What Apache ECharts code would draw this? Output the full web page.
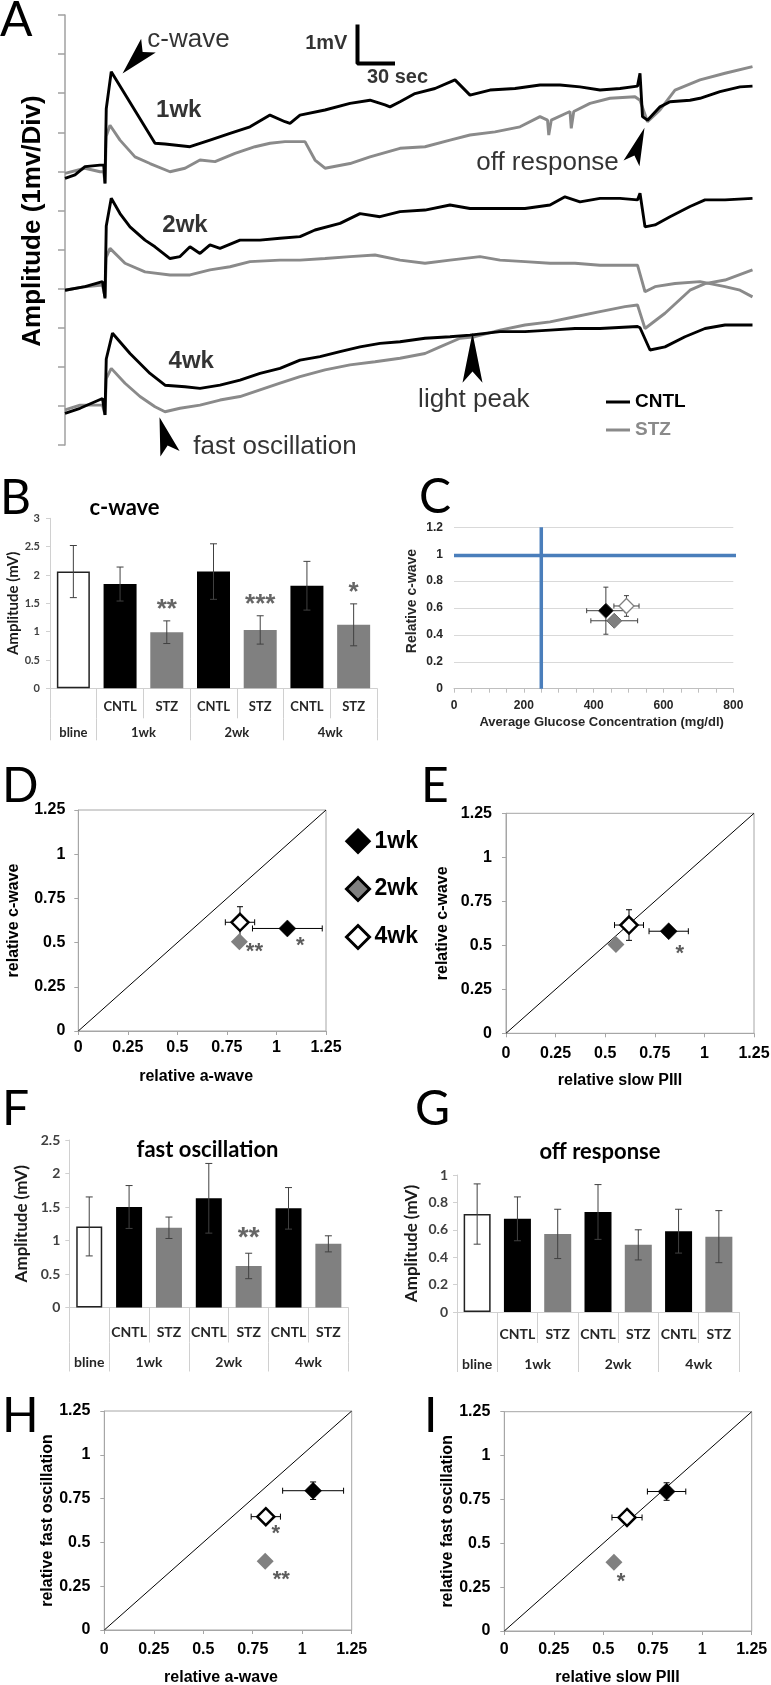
<!DOCTYPE html>
<html><head><meta charset="utf-8">
<script src="https://cdn.jsdelivr.net/npm/echarts@6/dist/echarts.min.js"></script>
<style>html,body{margin:0;padding:0;background:#fff}#c{width:771px;height:1685px}</style>
</head><body><div id="c"></div>
<script>
// ---------------- DATA ----------------
// Panel A: DC-ERG traces, [time (s), amplitude (mV, incl. display offset)]
const cntl1wk = [[0,6.82],[8,6.91],[16,7.12],[28,7.16],[31,7.16],[32,6.69],[33,8.6],[37,9.55],[72,7.72],[80,7.70],[100,7.63],[116,7.80],[132,7.97],[148,8.14],[164,8.44],[176,8.27],[180,8.23],[188,8.44],[208,8.57],[228,8.74],[244,8.82],[256,8.70],[260,8.65],[268,8.78],[280,8.99],[296,9.12],[312,9.34],[324,8.95],[340,9.08],[360,9.12],[380,9.21],[396,9.21],[412,9.16],[428,9.08],[444,9.12],[458,9.18],[460,9.51],[462,8.40],[466,8.31],[476,8.65],[484,8.78],[500,8.82],[508,8.87],[524,9.04],[540,9.16],[550,9.18]];
const stz1wk = [[0,6.95],[16,7.08],[28,6.99],[31,6.99],[32,6.69],[33,7.9],[36,8.18],[44,7.80],[56,7.37],[68,7.20],[84,6.99],[96,7.08],[108,7.29],[120,7.25],[136,7.46],[152,7.63],[164,7.72],[176,7.76],[192,7.76],[200,7.29],[208,7.08],[228,7.20],[244,7.37],[268,7.59],[288,7.63],[308,7.80],[324,7.93],[344,8.01],[364,8.14],[380,8.40],[386,8.31],[387,7.93],[389,8.31],[404,8.53],[405,8.10],[407,8.53],[420,8.74],[436,8.87],[456,8.91],[460,8.82],[466,8.27],[476,8.57],[488,9.08],[508,9.34],[528,9.51],[550,9.68]];
const cntl2wk = [[0,3.96],[16,4.05],[30,4.18],[32,3.75],[33,5.6],[37,6.31],[44,5.92],[52,5.58],[64,5.24],[72,5.07],[84,4.77],[92,4.82],[100,5.07],[108,4.90],[116,5.12],[124,5.03],[140,5.24],[156,5.24],[172,5.29],[188,5.33],[200,5.50],[220,5.67],[236,5.92],[252,5.84],[268,5.97],[288,6.01],[308,6.14],[324,6.05],[348,6.05],[368,6.05],[388,6.14],[400,6.35],[412,6.22],[428,6.31],[444,6.31],[458,6.27],[460,6.44],[464,5.58],[472,5.63],[484,5.84],[500,6.10],[512,6.27],[528,6.27],[550,6.31]];
const stz2wk = [[0,3.96],[16,4.05],[30,4.09],[32,3.79],[33,4.8],[36,5.03],[48,4.65],[64,4.43],[84,4.35],[100,4.35],[116,4.48],[132,4.56],[148,4.69],[172,4.73],[188,4.73],[208,4.77],[228,4.82],[248,4.86],[268,4.73],[288,4.65],[308,4.73],[332,4.82],[348,4.73],[368,4.69],[388,4.65],[408,4.65],[428,4.60],[458,4.60],[464,3.92],[472,4.05],[488,4.13],[508,4.18],[528,4.05],[540,3.96],[550,3.79]];
const cntl4wk = [[0,0.81],[12,0.94],[30,1.19],[32,0.77],[33,2.2],[38,2.86],[52,2.34],[68,1.83],[80,1.53],[96,1.49],[108,1.45],[124,1.53],[140,1.66],[156,1.83],[172,1.96],[188,2.17],[204,2.26],[220,2.39],[236,2.51],[252,2.60],[268,2.64],[288,2.73],[308,2.77],[324,2.81],[348,2.90],[368,2.90],[388,2.94],[408,2.98],[428,2.98],[458,3.03],[460,3.00],[468,2.43],[480,2.51],[496,2.77],[512,2.98],[528,3.07],[550,3.07]];
const stz4wk = [[0,0.90],[12,1.02],[30,1.02],[32,0.77],[33,1.7],[37,1.96],[48,1.58],[60,1.24],[72,0.98],[80,0.85],[92,0.94],[108,1.02],[124,1.15],[140,1.24],[156,1.41],[172,1.58],[188,1.75],[208,1.92],[228,2.05],[248,2.13],[268,2.22],[288,2.34],[300,2.51],[316,2.73],[328,2.77],[348,2.94],[368,3.07],[388,3.15],[408,3.28],[428,3.41],[448,3.54],[458,3.58],[464,2.98],[480,3.37],[500,3.96],[512,4.13],[528,4.22],[550,4.48]];
const scaleBar = [[234,10.76],[234,9.76],[264,9.76]];          // 1 mV / 30 s
const annotText = ['c-wave','off response','light peak','fast oscillation'];
const annotPos  = [[98.8,10.36],[386,7.21],[327,1.15],[168,-0.05]];
const weekLabelText = ['1wk','2wk','4wk'];
const weekLabelPos  = [[91,8.57],[96,5.63],[101,2.13]];
const scaleText = ['1mV','30 sec'];
const scaleTextPos = [[209,10.28],[266,9.41]];
const arrowPos = [[56.4,9.86],[458.4,7.66],[326,2.23],[79.8,0.245]];

// Bar panels
const groups = ['bline','1wk','2wk','4wk'];
const conds = ['CNTL','STZ'];
const barCats = ['bline','1wk CNTL','1wk STZ','2wk CNTL','2wk STZ','4wk CNTL','4wk STZ'];
const cwaveMean = [2.06, 1.84, 0.99, 2.06, 1.03, 1.81, 1.12];
const cwaveSE   = [0.46, 0.30, 0.20, 0.49, 0.25, 0.43, 0.37];
const cwaveStars = ['', '', '**', '', '***', '', '*'];
const fastMean = [1.21, 1.50, 1.19, 1.63, 0.62, 1.48, 0.95];
const fastSE   = [0.44, 0.32, 0.16, 0.52, 0.19, 0.31, 0.12];
const fastStars = ['', '', '', '', '**', '', ''];
const offMean = [0.715, 0.68, 0.57, 0.73, 0.49, 0.59, 0.55];
const offSE   = [0.22, 0.16, 0.18, 0.20, 0.11, 0.16, 0.19];

// Scatter panels (1wk, 2wk, 4wk)
const weekNames = ['1wk','2wk','4wk'];
const glucose = [435, 459, 494];
const glucoseErr = [55, 67, 36];
const relCwave = [0.58, 0.505, 0.615];
const relCwaveErrC = [0.175, 0, 0.077];
const relCwaveErrD = [0, 0, 0.088];
const relCwaveErrE = [0, 0, 0.087];
const relAwave = [1.055, 0.813, 0.816];
const relAwaveErrD = [0.176, 0, 0.074];
const relAwaveErrH = [0.154, 0, 0.074];
const relSlowPIII = [0.82, 0.554, 0.62];
const relSlowErrE = [0.099, 0, 0.073];
const relSlowErrI = [0.097, 0, 0.076];
const relFastOsc = [0.795, 0.392, 0.647];
const relFastErr = [0.05, 0, 0];
const starsD = ['*', '**', ''];
const starsE = ['*', '', ''];
const starsH = ['', '**', '*'];
const starsI = ['', '*', ''];
const glucoseNormal = 250;
const cwaveRef = 0.99;
const cwaveRefEnd = 824;
const unityLine = [0, 1.25];

// ---------------- STYLE / BUILD ----------------
const ARIAL = '"Liberation Sans", Arial, Helvetica, sans-serif';
const CAL = 'Lato, Carlito, "Open Sans", sans-serif';
const ARROW = 'path://M0,0 L10,40 L0,31 L-10,40 Z';
const grid = [], xAxis = [], yAxis = [], series = [];
const noBounds = {containLabel:false, outerBoundsMode:'none'};

// ---- Panel A ----
grid.push(Object.assign({left:65, top:15, width:687.5, height:430}, noBounds));
xAxis.push({gridIndex:0, type:'value', min:0, max:550, show:false});
yAxis.push({gridIndex:0, type:'value', min:0, max:11, interval:1,
  axisLine:{show:true, lineStyle:{color:'#a0a0a0', width:1.5}},
  axisTick:{show:true, length:7, lineStyle:{color:'#a0a0a0', width:1.5}},
  axisLabel:{show:false}, splitLine:{show:false},
  name:'Amplitude (1mv/Div)', nameLocation:'middle', nameGap:19,
  nameTextStyle:{fontFamily:ARIAL, fontWeight:'bold', fontSize:26, color:'#000', padding:[0,0,0,18]}});
[[stz1wk,'STZ'],[stz2wk,'STZ'],[stz4wk,'STZ'],[cntl1wk,'CNTL'],[cntl2wk,'CNTL'],[cntl4wk,'CNTL']].forEach(([d,n])=>{
  const col = n==='CNTL' ? '#000' : '#8a8a8a';
  series.push({type:'line', name:n, xAxisIndex:0, yAxisIndex:0, data:d, symbol:'none', showSymbol:false,
    lineStyle:{width:2.9, color:col}, itemStyle:{color:col}, z:n==='CNTL'?3:2, silent:true});
});
series.push({type:'line', xAxisIndex:0, yAxisIndex:0, data:scaleBar, symbol:'none', lineStyle:{width:4, color:'#000'}, silent:true, z:4});
const txt = (s, f, w) => ({show:true, formatter:s, position:'inside', fontFamily:ARIAL, fontSize:f, fontWeight:w, color:'#000'});
series.push({type:'scatter', xAxisIndex:0, yAxisIndex:0, symbolSize:0, clip:false, silent:true, z:6,
  data: annotText.map((s,i)=>({value:annotPos[i], label:txt(s,26,'normal')}))
    .concat(weekLabelText.map((s,i)=>({value:weekLabelPos[i], label:txt(s,24,'bold')})))
    .concat(scaleText.map((s,i)=>({value:scaleTextPos[i], label:txt(s,20,'bold')})))});
const arrowRot = [137, -20, 0, 16];
const arrowSize = [[20,38],[17,38],[20,50],[20,38]];
series.push({type:'scatter', xAxisIndex:0, yAxisIndex:0, clip:false, silent:true, z:6, itemStyle:{color:'#000', opacity:1},
  data: arrowPos.map((p,i)=>({value:p, symbol:ARROW, symbolSize:arrowSize[i], symbolRotate:arrowRot[i]}))});

// ---- Bar panels ----
const row1Labels = [], row2Labels = [];
for (let k=0;k<15;k++){ row1Labels.push(''); row2Labels.push(''); }
for (let b=1;b<7;b++) row1Labels[2*b+1] = conds[(b-1)%2];
row2Labels[1] = groups[0];
for (let g=1; g<groups.length; g++) row2Labels[4*g] = groups[g];
const row1Edges = [0,2,4,6,8,10,12,14];
const row2Edges = [0,2,6,10,14];
const barFill = ['#ffffff','#000000','#808080','#000000','#808080','#000000','#808080'];

function barErr(params, api){
  const i = api.value(0), m = api.value(1), s = api.value(2);
  const t = api.coord([i, m+s]), b = api.coord([i, m-s]);
  const st = {stroke:'#404040', lineWidth:1}, c = 3.5, x = t[0];
  return {type:'group', children:[
    {type:'line', shape:{x1:x,y1:t[1],x2:x,y2:b[1]}, style:st},
    {type:'line', shape:{x1:x-c,y1:t[1],x2:x+c,y2:t[1]}, style:st},
    {type:'line', shape:{x1:x-c,y1:b[1],x2:x+c,y2:b[1]}, style:st}]};
}
function addBarPanel(p){
  const gi = grid.length;
  grid.push(Object.assign({}, p.box, noBounds));
  const yi = yAxis.length;
  yAxis.push({gridIndex:gi, type:'value', min:0, max:p.ymax, interval:p.yint,
    axisLine:{show:true, lineStyle:{color:'#d0d0d0'}},
    axisTick:{show:true, length:4, lineStyle:{color:'#d0d0d0'}}, splitLine:{show:false},
    axisLabel:{margin:p.yLabM, fontFamily:CAL, fontWeight:'bold', fontSize:p.yFont, color:'#404040'},
    name:'Amplitude (mV)', nameLocation:'middle', nameGap:p.yNameGap,
    nameTextStyle:{fontFamily:CAL, fontWeight:'bold', fontSize:p.yNameFont, color:'#1a1a1a'}});
  const xb = xAxis.length;
  xAxis.push({gridIndex:gi, type:'category', data:barCats, axisLine:{show:true, lineStyle:{color:'#d0d0d0'}},
    axisTick:{show:false}, axisLabel:{show:false}});
  xAxis.push({gridIndex:gi, type:'category', boundaryGap:false, data:row1Labels, position:'bottom', offset:0,
    axisLine:{show:false, onZero:false},
    axisTick:{show:true, length:p.rowH[0], interval:(i)=>row1Edges.includes(i), lineStyle:{color:'#d0d0d0'}},
    axisLabel:{interval:0, margin:p.rowM[0], fontFamily:CAL, fontWeight:'bold', fontSize:p.rowFont, color:'#262626'}});
  xAxis.push({gridIndex:gi, type:'category', boundaryGap:false, data:row2Labels, position:'bottom', offset:p.rowH[0],
    axisLine:{show:false, onZero:false},
    axisTick:{show:true, length:p.rowH[1], interval:(i)=>row2Edges.includes(i), lineStyle:{color:'#d0d0d0'}},
    axisLabel:{interval:0, margin:p.rowM[1], fontFamily:CAL, fontWeight:'bold', fontSize:p.rowFont, color:'#262626'}});
  series.push({type:'bar', xAxisIndex:xb, yAxisIndex:yi, barWidth:p.barW, z:2, silent:true,
    data:p.mean.map((m,i)=>({value:m, itemStyle:{color:barFill[i], borderColor:i===0?'#222':barFill[i], borderWidth:i===0?1.5:0}}))});
  series.push({type:'custom', xAxisIndex:xb, yAxisIndex:yi, z:5, silent:true, encode:{x:0,y:1},
    data:p.mean.map((m,i)=>[i,m,p.se[i]]), renderItem:barErr});
  const sd = [];
  p.stars.forEach((s,i)=>{ if(s) sd.push({value:[i, p.mean[i]+p.se[i]],
    label:{show:true, formatter:s, position:'inside', offset:[0,-p.starGap+6], fontFamily:ARIAL, fontWeight:'bold', fontSize:p.starFont, color:'#404040'}}); });
  series.push({type:'scatter', xAxisIndex:xb, yAxisIndex:yi, symbolSize:0, z:6, silent:true, clip:false, data:sd});
}
addBarPanel({box:{left:50, top:518.3, width:327, height:170}, ymax:3, yint:0.5, yLabM:10, yFont:11,
  yNameGap:25, yNameFont:15, rowH:[30,22], rowM:[12,8], rowFont:13, barW:33,
  mean:cwaveMean, se:cwaveSE, stars:cwaveStars, starGap:17, starFont:26});

// ---- Panel C ----
function ptErr(color, cap){
  return function(params, api){
    const x = api.value(0), y = api.value(1), ex = api.value(2), ey = api.value(3);
    const st = {stroke:color, lineWidth:1}, ch = [];
    const L = (x1,y1,x2,y2)=>ch.push({type:'line', shape:{x1,y1,x2,y2}, style:st});
    if (ex > 0){ const a = api.coord([x-ex,y]), b = api.coord([x+ex,y]);
      L(a[0],a[1],b[0],b[1]); L(a[0],a[1]-cap,a[0],a[1]+cap); L(b[0],b[1]-cap,b[0],b[1]+cap); }
    if (ey > 0){ const a = api.coord([x,y-ey]), b = api.coord([x,y+ey]);
      L(a[0],a[1],b[0],b[1]); L(a[0]-cap,a[1],a[0]+cap,a[1]); L(b[0]-cap,b[1],b[0]+cap,b[1]); }
    return {type:'group', children:ch};
  };
}
{
  const gi = grid.length;
  grid.push(Object.assign({left:454, top:527.3, width:279.3, height:161.4}, noBounds));
  const xi = xAxis.length, yi = yAxis.length;
  xAxis.push({gridIndex:gi, type:'value', min:0, max:800, interval:50,
    axisLine:{show:true, onZero:false, lineStyle:{color:'#bfbfbf'}},
    axisTick:{show:true, length:4, lineStyle:{color:'#bfbfbf'}}, splitLine:{show:false},
    axisLabel:{margin:11, fontFamily:ARIAL, fontWeight:'bold', fontSize:12, color:'#262626', formatter:(v)=>v%200===0?String(v):''},
    name:'Average Glucose Concentration (mg/dl)', nameLocation:'middle', nameGap:27,
    nameTextStyle:{fontFamily:ARIAL, fontWeight:'bold', fontSize:13, color:'#262626', padding:[0,0,0,16]}});
  yAxis.push({gridIndex:gi, type:'value', min:0, max:1.2, interval:0.2,
    axisLine:{show:false}, axisTick:{show:false},
    splitLine:{show:true, lineStyle:{color:'#d9d9d9', width:1}},
    axisLabel:{margin:11, fontFamily:ARIAL, fontWeight:'bold', fontSize:12, color:'#262626', formatter:(v)=>String(Math.round(v*10)/10)},
    name:'Relative c-wave', nameLocation:'middle', nameGap:35,
    nameTextStyle:{fontFamily:ARIAL, fontWeight:'bold', fontSize:14, color:'#262626', padding:[0,0,0,14]}});
  series.push({type:'line', xAxisIndex:xi, yAxisIndex:yi, symbol:'none', clip:false, silent:true, z:2,
    data:[[glucoseNormal,0],[glucoseNormal,1.2]], lineStyle:{color:'#4a7ebb', width:3.5}});
  series.push({type:'line', xAxisIndex:xi, yAxisIndex:yi, symbol:'none', clip:false, silent:true, z:2,
    data:[[0,cwaveRef],[cwaveRefEnd,cwaveRef]], lineStyle:{color:'#4a7ebb', width:3.5}});
  series.push({type:'custom', xAxisIndex:xi, yAxisIndex:yi, z:3, silent:true, encode:{x:0,y:1},
    data:glucose.map((g,i)=>[g, relCwave[i], glucoseErr[i], relCwaveErrC[i]]), renderItem:ptErr('#404040',2.5)});
  const cSty = [{color:'#000', borderColor:'#444', borderWidth:1, opacity:1},{color:'#7f7f7f', borderColor:'#6a6a6a', borderWidth:1, opacity:1},{color:'#fff', borderColor:'#7f7f7f', borderWidth:1.3, opacity:1}];
  weekNames.forEach((w,i)=>series.push({type:'scatter', name:w, xAxisIndex:xi, yAxisIndex:yi, symbol:'diamond', symbolSize:15,
    data:[[glucose[i], relCwave[i]]], itemStyle:cSty[i], z:4, silent:true}));
}

// ---- Scatter panels D/E/H/I ----
const wkSty = [{color:'#000', borderColor:'#000', borderWidth:0.5, opacity:1},{color:'#808080', borderWidth:0, opacity:1},{color:'#fff', borderColor:'#000', borderWidth:2.5, opacity:1}];
function addScatterPanel(p){
  const gi = grid.length;
  grid.push(Object.assign({show:true, borderColor:'#a6a6a6', borderWidth:1, backgroundColor:'transparent'}, p.box, noBounds));
  const xi = xAxis.length, yi = yAxis.length;
  const common = {gridIndex:gi, type:'value', min:0, max:1.25, interval:0.25,
    axisLine:{show:true, onZero:false, lineStyle:{color:'#a6a6a6'}},
    axisTick:{show:true, length:4, lineStyle:{color:'#a6a6a6'}}, splitLine:{show:false}, nameLocation:'middle'};
  xAxis.push(Object.assign({}, common, {name:p.xName, nameGap:p.xNameGap,
    nameTextStyle:{fontFamily:ARIAL, fontWeight:'bold', fontSize:16, color:'#000', padding:[0,p.xPad,0,0]},
    axisLabel:{margin:p.xLabM, fontFamily:ARIAL, fontWeight:'bold', fontSize:16, color:'#000'}}));
  yAxis.push(Object.assign({}, common, {name:p.yName, nameGap:p.yNameGap,
    nameTextStyle:{fontFamily:ARIAL, fontWeight:'bold', fontSize:16, color:'#000'},
    axisLabel:{margin:p.yLabM, fontFamily:ARIAL, fontWeight:'bold', fontSize:16, color:'#000'}}));
  series.push({type:'line', xAxisIndex:xi, yAxisIndex:yi, data:unityLine.map(v=>[v,v]), symbol:'none',
    lineStyle:{color:'#000', width:1}, z:1, silent:true});
  series.push({type:'custom', xAxisIndex:xi, yAxisIndex:yi, z:3, silent:true, encode:{x:0,y:1},
    data:p.x.map((x,i)=>[x, p.y[i], p.xe[i], p.ye[i]]), renderItem:ptErr('#000',3)});
  weekNames.forEach((w,i)=>series.push({type:'scatter', name:w, xAxisIndex:xi, yAxisIndex:yi, symbol:'diamond', symbolSize:17,
    data:[[p.x[i], p.y[i]]], itemStyle:wkSty[i], z:4, silent:true}));
  const sd = [];
  p.stars.forEach((s,i)=>{ if(s) sd.push({value:[p.x[i], p.y[i]],
    label:{show:true, formatter:s, position:'inside', offset:[p.starOff[i][0], p.starOff[i][1]+5], fontFamily:ARIAL, fontWeight:'bold', fontSize:22, color:'#333'}}); });
  series.push({type:'scatter', xAxisIndex:xi, yAxisIndex:yi, symbolSize:0, z:6, silent:true, clip:false, data:sd});
}
addScatterPanel({box:{left:78.3, top:810, width:247.7, height:221}, x:relAwave, xe:relAwaveErrD, y:relCwave, ye:relCwaveErrD,
  xName:'relative a-wave', yName:'relative c-wave', xNameGap:38, yNameGap:57, xLabM:9, yLabM:13, xPad:12,
  stars:starsD, starOff:[[13,12],[15,5],[0,0]]});
addScatterPanel({box:{left:506, top:813.3, width:248, height:220}, x:relSlowPIII, xe:relSlowErrE, y:relCwave, ye:relCwaveErrE,
  xName:'relative slow PIII', yName:'relative c-wave', xNameGap:39, yNameGap:55, xLabM:12, yLabM:14, xPad:20,
  stars:starsE, starOff:[[11,18],[0,0],[0,0]]});

// ---- Bar panels F, G ----
addBarPanel({box:{left:69.3, top:1140, width:279, height:167.5}, ymax:2.5, yint:0.5, yLabM:9, yFont:14,
  yNameGap:39, yNameFont:17, rowH:[35,29], rowM:[17.5,12.5], rowFont:14, barW:26,
  mean:fastMean, se:fastSE, stars:fastStars, starGap:21, starFont:28});
addBarPanel({box:{left:457, top:1175, width:282, height:137}, ymax:1, yint:0.2, yLabM:9, yFont:14,
  yNameGap:37, yNameFont:17, rowH:[31,29], rowM:[15,14], rowFont:14, barW:27,
  mean:offMean, se:offSE, stars:['','','','','','',''], starGap:20, starFont:28});

// ---- Scatter panels H, I ----
addScatterPanel({box:{left:104.3, top:1411, width:247.4, height:219}, x:relAwave, xe:relAwaveErrH, y:relFastOsc, ye:relFastErr,
  xName:'relative a-wave', yName:'relative fast oscillation', xNameGap:40, yNameGap:46, xLabM:12, yLabM:14, xPad:14,
  stars:starsH, starOff:[[0,0],[16,14],[10,12]]});
addScatterPanel({box:{left:504.3, top:1411.7, width:247.4, height:219.3}, x:relSlowPIII, xe:relSlowErrI, y:relFastOsc, ye:relFastErr,
  xName:'relative slow PIII', yName:'relative fast oscillation', xNameGap:39, yNameGap:46, xLabM:11, yLabM:14, xPad:21,
  stars:starsI, starOff:[[0,0],[7,15],[0,0]]});

// ---- Legends, letters, titles ----
const legend = [
  {left:606, top:392.5, orient:'vertical', itemWidth:24, itemHeight:3, itemGap:9, icon:'rect', selectedMode:false, padding:0,
   textStyle:{fontFamily:ARIAL, fontWeight:'bold', fontSize:19},
   data:[{name:'CNTL', itemStyle:{color:'#000', opacity:1}, textStyle:{color:'#000'}},{name:'STZ', itemStyle:{color:'#8a8a8a', opacity:1}, textStyle:{color:'#8a8a8a'}}]},
  {left:345, top:828.5, orient:'vertical', itemWidth:23, itemHeight:23, itemGap:22, icon:'diamond', selectedMode:false, padding:0,
   textStyle:{fontFamily:ARIAL, fontWeight:'bold', fontSize:23, color:'#000'},
   data:[{name:'1wk', itemStyle:{color:'#000', borderColor:'#000', borderWidth:2.5, opacity:1}},
         {name:'2wk', itemStyle:{color:'#808080', borderColor:'#000', borderWidth:3, opacity:1}},
         {name:'4wk', itemStyle:{color:'#fff', borderColor:'#000', borderWidth:3, opacity:1}}]}
];
const letters = ['A','B','C','D','E','F','G','H','I'];
const letterPos = [[0,21],[0,498.5],[419,497.5],[2,786.5],[421,786.5],[2,1110],[415,1110],[2,1416.5],[424,1416.5]];
const titles = ['c-wave','fast oscillation','off response'];
const titlePos = [[124.5,508],[207.5,1150],[600,1152]];
const graphic = letters.map((t,i)=>({type:'text', x:letterPos[i][0], y:letterPos[i][1], silent:true,
    style:{text:t, fontFamily:'Lato, "Liberation Sans", sans-serif', fontSize:48, fill:'#000', align:'left', verticalAlign:'middle'}}))
  .concat(titles.map((t,i)=>({type:'text', x:titlePos[i][0], y:titlePos[i][1], silent:true,
    style:{text:t, fontFamily:CAL, fontWeight:'bold', fontSize:22, fill:'#000', align:'center', verticalAlign:'middle'}})));

const chart = echarts.init(document.getElementById('c'), null, {renderer:'canvas', width:771, height:1685});
chart.setOption({animation:false, backgroundColor:'#fff', textStyle:{fontFamily:ARIAL},
  grid, xAxis, yAxis, series, legend, graphic});
</script></body></html>
